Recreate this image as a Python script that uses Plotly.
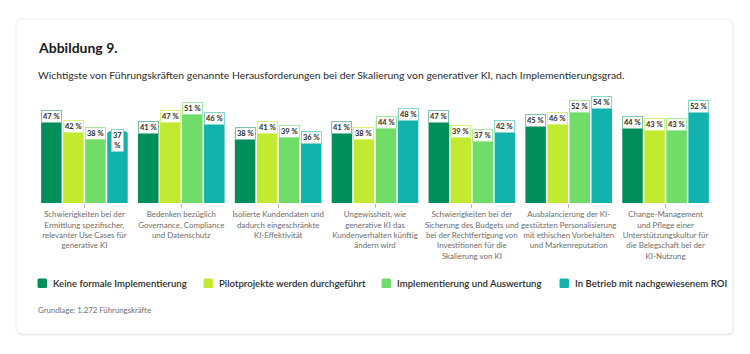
import plotly.graph_objects as go

W, H = 750, 354

categories = [
    "Schwierigkeiten bei der<br>Ermittlung spezifischer,<br>relevanter Use Cases für<br>generative KI",
    "Bedenken bezüglich<br>Governance, Compliance<br>und Datenschutz",
    "Isolierte Kundendaten und<br>dadurch eingeschränkte<br>KI-Effektivität",
    "Ungewissheit, wie<br>generative KI das<br>Kundenverhalten künftig<br>ändern wird",
    "Schwierigkeiten bei der<br>Sicherung des Budgets und<br>bei der Rechtfertigung von<br>Investitionen für die<br>Skalierung von KI",
    "Ausbalancierung der KI-<br>gestützten Personalisierung<br>mit ethischen Vorbehalten<br>und Markenreputation",
    "Change-Management<br>und Pflege einer<br>Unterstützungskultur für<br>die Belegschaft bei der<br>KI-Nutzung",
]
series_names = [
    "Keine formale Implementierung",
    "Pilotprojekte werden durchgeführt",
    "Implementierung und Auswertung",
    "In Betrieb mit nachgewiesenem ROI",
]
keine = [47, 41, 38, 41, 47, 45, 44]
pilot = [42, 47, 41, 38, 39, 46, 43]
implementierung = [38, 51, 39, 44, 37, 52, 43]
betrieb = [37, 46, 36, 48, 42, 54, 52]
series_values = [keine, pilot, implementierung, betrieb]
colors = ["#008f5a", "#c1ea30", "#6fdd68", "#12b3ad"]
border_colors = ["#7fc4aa", "#d9f27f", "#a6eaa1", "#86d6d2"]

FONT = "Lato"
x_idx = list(range(len(categories)))

fig = go.Figure()
for name, vals, col in zip(series_names, series_values, colors):
    fig.add_trace(go.Bar(
        x=x_idx, y=vals, name=name,
        marker=dict(color=col, line=dict(width=0), cornerradius=3),
        hoverinfo="skip", showlegend=False,
    ))

bargap = 0.09
slot = (1 - bargap) / 4
annotations = []
for j, (vals, bc) in enumerate(zip(series_values, border_colors)):
    for i, v in enumerate(vals):
        txt = f"<b>{v} %</b>"
        if i == 0 and j == 3:
            txt = f"<b>{v}<br>%</b>"
        annotations.append(dict(
            x=i + (j - 1.5) * slot, y=v, xref="x", yref="y",
            text=txt, showarrow=False, yanchor="top", yshift=2,
            font=dict(family=FONT, size=7.5, color="#2c2c2c"),
            bgcolor="white", bordercolor=bc, borderwidth=1, borderpad=1,
        ))

def px(x):
    return x / W

def py(y):
    return 1 - y / H

annotations += [
    dict(x=px(36), y=py(48), xref="paper", yref="paper", xanchor="left", yanchor="middle",
         text="<b>Abbildung 9.</b>", showarrow=False,
         font=dict(family=FONT, size=14, color="#1a1a1a")),
    dict(x=px(36), y=py(75), xref="paper", yref="paper", xanchor="left", yanchor="middle",
         text="Wichtigste von Führungskräften genannte Herausforderungen bei der Skalierung von generativer KI, nach Implementierungsgrad.",
         showarrow=False, font=dict(family=FONT, size=10.4, color="#2c2c2c")),
    dict(x=px(36), y=py(310), xref="paper", yref="paper", xanchor="left", yanchor="middle",
         text="Grundlage: 1.272 Führungskräfte", showarrow=False,
         font=dict(family=FONT, size=7.8, color="#707070")),
]

# card with rounded corners (paper coords)
def rounded_rect(a, b, c, d, r):
    return (f"M {px(a + r)},{py(c)} L {px(b - r)},{py(c)} Q {px(b)},{py(c)} {px(b)},{py(c + r)} "
            f"L {px(b)},{py(d - r)} Q {px(b)},{py(d)} {px(b - r)},{py(d)} "
            f"L {px(a + r)},{py(d)} Q {px(a)},{py(d)} {px(a)},{py(d - r)} "
            f"L {px(a)},{py(c + r)} Q {px(a)},{py(c)} {px(a + r)},{py(c)} Z")

x0, x1, y0, y1 = 16, 733, 19, 334
shapes = [
    dict(type="path", path=rounded_rect(x0 + 1, x1 + 1, y0 + 1.5, y1 + 1.5, 6), xref="paper", yref="paper",
         fillcolor="#ececec", line=dict(width=0), layer="below"),
    dict(type="path", path=rounded_rect(x0, x1, y0, y1, 6), xref="paper", yref="paper",
         fillcolor="white", line=dict(color="#eeeeee", width=1), layer="below"),
]

# manual legend
legend_x = [37.5, 203.5, 381.5, 559.5]
for lx, name, col in zip(legend_x, series_names, colors):
    shapes.append(dict(type="path", path=rounded_rect(lx, lx + 9.5, 278.5, 288, 1.5),
                       xref="paper", yref="paper", fillcolor=col, line=dict(width=0)))
    annotations.append(dict(x=px(lx + 13), y=py(283), xref="paper", yref="paper",
                            xanchor="left", yanchor="middle", text=name, showarrow=False,
                            font=dict(family=FONT, size=9.6, color="#2c2c2c", weight=600)))

ytop = 203 - 55 * 1.94
fig.update_layout(
    width=W, height=H,
    margin=dict(l=0, r=0, t=0, b=0),
    paper_bgcolor="white", plot_bgcolor="rgba(0,0,0,0)",
    barmode="group", bargap=bargap, bargroupgap=0.07,
    font=dict(family=FONT),
    xaxis=dict(domain=[px(36), px(714)], range=[-0.5, 6.5],
               tickvals=x_idx, ticktext=categories, tickangle=0,
               ticks="outside", ticklen=4, tickcolor="#bbbbbb", tickwidth=1,
               tickfont=dict(family=FONT, size=7.9, color="#6e6e6e"),
               showgrid=False, zeroline=False, showline=False, fixedrange=True),
    yaxis=dict(domain=[py(203), py(ytop)], range=[0, 55], visible=False, fixedrange=True),
    annotations=annotations, shapes=shapes, showlegend=False,
)

fig.write_html("out.html")
